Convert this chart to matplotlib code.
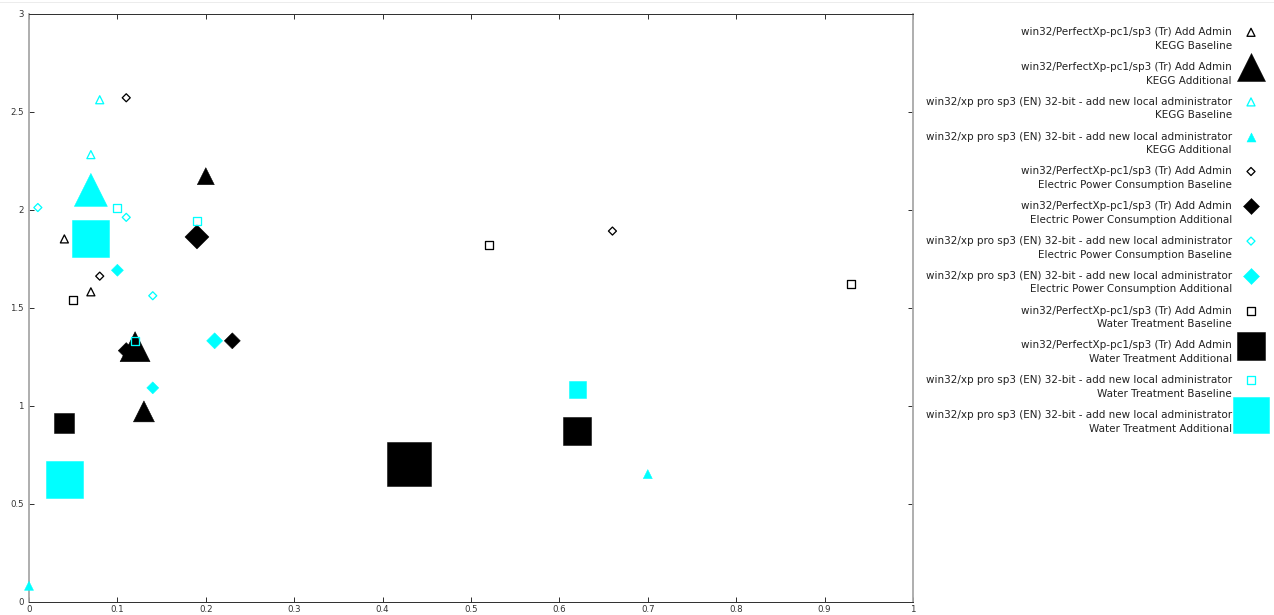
import matplotlib
matplotlib.use('Agg')
import matplotlib.pyplot as plt
from matplotlib.lines import Line2D

W, H, DPI = 1274, 615, 72

#两组实验的名称
tr = 'win32/PerfectXp-pc1/sp3 (Tr) Add Admin'
en = 'win32/xp pro sp3 (EN) 32-bit - add new local administrator'

# KEGG
kegg_base_tr_x = [0.04, 0.07]
kegg_base_tr_y = [1.85, 1.58]
kegg_add_tr_x = [0.20, 0.13, 0.12]
kegg_add_tr_y = [2.17, 0.97, 1.30]
kegg_add_tr_w = [17, 21, 30]
kegg_base_en_x = [0.08, 0.07]
kegg_base_en_y = [2.56, 2.28]
kegg_add_en_x = [0.07, 0.70, 0.00]
kegg_add_en_y = [2.10, 0.65, 0.08]
kegg_add_en_w = [33, 9, 9]

# Electric Power Consumption
epc_base_tr_x = [0.11, 0.08, 0.66]
epc_base_tr_y = [2.57, 1.66, 1.89]
epc_add_tr_x = [0.19, 0.23, 0.11]
epc_add_tr_y = [1.86, 1.33, 1.28]
epc_add_tr_w = [24, 16, 16]
epc_base_en_x = [0.01, 0.11, 0.14]
epc_base_en_y = [2.01, 1.96, 1.56]
epc_add_en_x = [0.10, 0.21, 0.14]
epc_add_en_y = [1.69, 1.33, 1.09]
epc_add_en_w = [12, 16, 12]

# Water Treatment
wt_base_tr_x = [0.05, 0.52, 0.93]
wt_base_tr_y = [1.54, 1.82, 1.62]
wt_add_tr_x = [0.04, 0.43, 0.62]
wt_add_tr_y = [0.91, 0.70, 0.87]
wt_add_tr_w = [20, 44, 28]
wt_base_en_x = [0.10, 0.19, 0.12]
wt_base_en_y = [2.01, 1.94, 1.33]
wt_add_en_x = [0.07, 0.04, 0.62]
wt_add_en_y = [1.85, 0.62, 1.08]
wt_add_en_w = [37, 37, 17]

xticks = [0, 0.1, 0.2, 0.3, 0.4, 0.5, 0.6, 0.7, 0.8, 0.9, 1]
xticklabels = ['0', '0.1', '0.2', '0.3', '0.4', '0.5', '0.6', '0.7', '0.8', '0.9', '1']
yticks = [0, 0.5, 1, 1.5, 2, 2.5, 3]
yticklabels = ['0', '0.5', '1', '1.5', '2', '2.5', '3']

CYAN = '#00ffff'
SMALL = 8

#像素宽度 -> matplotlib 的 markersize
def ms(marker, w):
    if marker == 'D':
        return w / 1.414
    return w

# (x, y, 宽度, marker, 颜色, 是否填充, 图例里的宽度, 标签)
series = [
    (kegg_base_tr_x, kegg_base_tr_y, None, '^', 'black', False, SMALL, tr + '\nKEGG Baseline'),
    (kegg_add_tr_x, kegg_add_tr_y, kegg_add_tr_w, '^', 'black', True, 28, tr + '\nKEGG Additional'),
    (kegg_base_en_x, kegg_base_en_y, None, '^', CYAN, False, SMALL, en + '\nKEGG Baseline'),
    (kegg_add_en_x, kegg_add_en_y, kegg_add_en_w, '^', CYAN, True, 9, en + '\nKEGG Additional'),
    (epc_base_tr_x, epc_base_tr_y, None, 'D', 'black', False, SMALL, tr + '\nElectric Power Consumption Baseline'),
    (epc_add_tr_x, epc_add_tr_y, epc_add_tr_w, 'D', 'black', True, 16, tr + '\nElectric Power Consumption Additional'),
    (epc_base_en_x, epc_base_en_y, None, 'D', CYAN, False, SMALL, en + '\nElectric Power Consumption Baseline'),
    (epc_add_en_x, epc_add_en_y, epc_add_en_w, 'D', CYAN, True, 16, en + '\nElectric Power Consumption Additional'),
    (wt_base_tr_x, wt_base_tr_y, None, 's', 'black', False, SMALL, tr + '\nWater Treatment Baseline'),
    (wt_add_tr_x, wt_add_tr_y, wt_add_tr_w, 's', 'black', True, 28, tr + '\nWater Treatment Additional'),
    (wt_base_en_x, wt_base_en_y, None, 's', CYAN, False, SMALL, en + '\nWater Treatment Baseline'),
    (wt_add_en_x, wt_add_en_y, wt_add_en_w, 's', CYAN, True, 36, en + '\nWater Treatment Additional'),
]

fig = plt.figure(figsize=(W / DPI, H / DPI), dpi=DPI, facecolor='white')

#图例区域，用像素坐标
lax = fig.add_axes([0, 0, 1, 1])
lax.set_xlim(0, W)
lax.set_ylim(H, 0)
lax.set_axis_off()

ax = fig.add_axes([29 / W, 1 - 601.5 / H, 884 / W, 588 / H])
ax.patch.set_alpha(0)

def draw(a, x, y, w, marker, color, filled, z):
    if filled:
        s = [ms(marker, v) ** 2 for v in w]
        a.scatter(x, y, s=s, marker=marker, c=color, edgecolors=color,
                  linewidths=0.5, zorder=z, clip_on=False)
    else:
        s = ms(marker, SMALL) ** 2
        a.scatter(x, y, s=s, marker=marker, facecolors='none', edgecolors=color,
                  linewidths=1.3, zorder=z, clip_on=False)

for i, (x, y, w, marker, color, filled, lw_, label) in enumerate(series):
    draw(ax, x, y, w, marker, color, filled, 3 + i)
    # 图例
    ly = 32.3 + i * 34.8
    line1, line2 = label.split('\n')
    lax.text(1232, ly, line1, ha='right', va='center', fontsize=10.4, color='#222222')
    lax.text(1232, ly + 13.6, line2, ha='right', va='center', fontsize=10.4, color='#222222')
    draw(lax, [1251], [ly], [lw_], marker, color, filled, 3 + i)

ax.set_xlim(0, 1)
ax.set_ylim(0, 3)
ax.set_xticks(xticks)
ax.set_xticklabels(xticklabels)
ax.set_yticks(yticks)
ax.set_yticklabels(yticklabels)
ax.tick_params(direction='in', length=5, width=1, colors='#333333', labelsize=8.6,
               top=True, right=True, pad=3)
ax.tick_params(axis='y', pad=5)
for side in ['top', 'bottom']:
    ax.spines[side].set_color('#333333')
    ax.spines[side].set_linewidth(1)
for side in ['left', 'right']:
    ax.spines[side].set_color('#a8a8a8')
    ax.spines[side].set_linewidth(1.8)

fig.add_artist(Line2D([0, 1], [1 - 2 / H, 1 - 2 / H], color='#ececec', lw=1))

fig.savefig('out.png', dpi=DPI, facecolor='white')
